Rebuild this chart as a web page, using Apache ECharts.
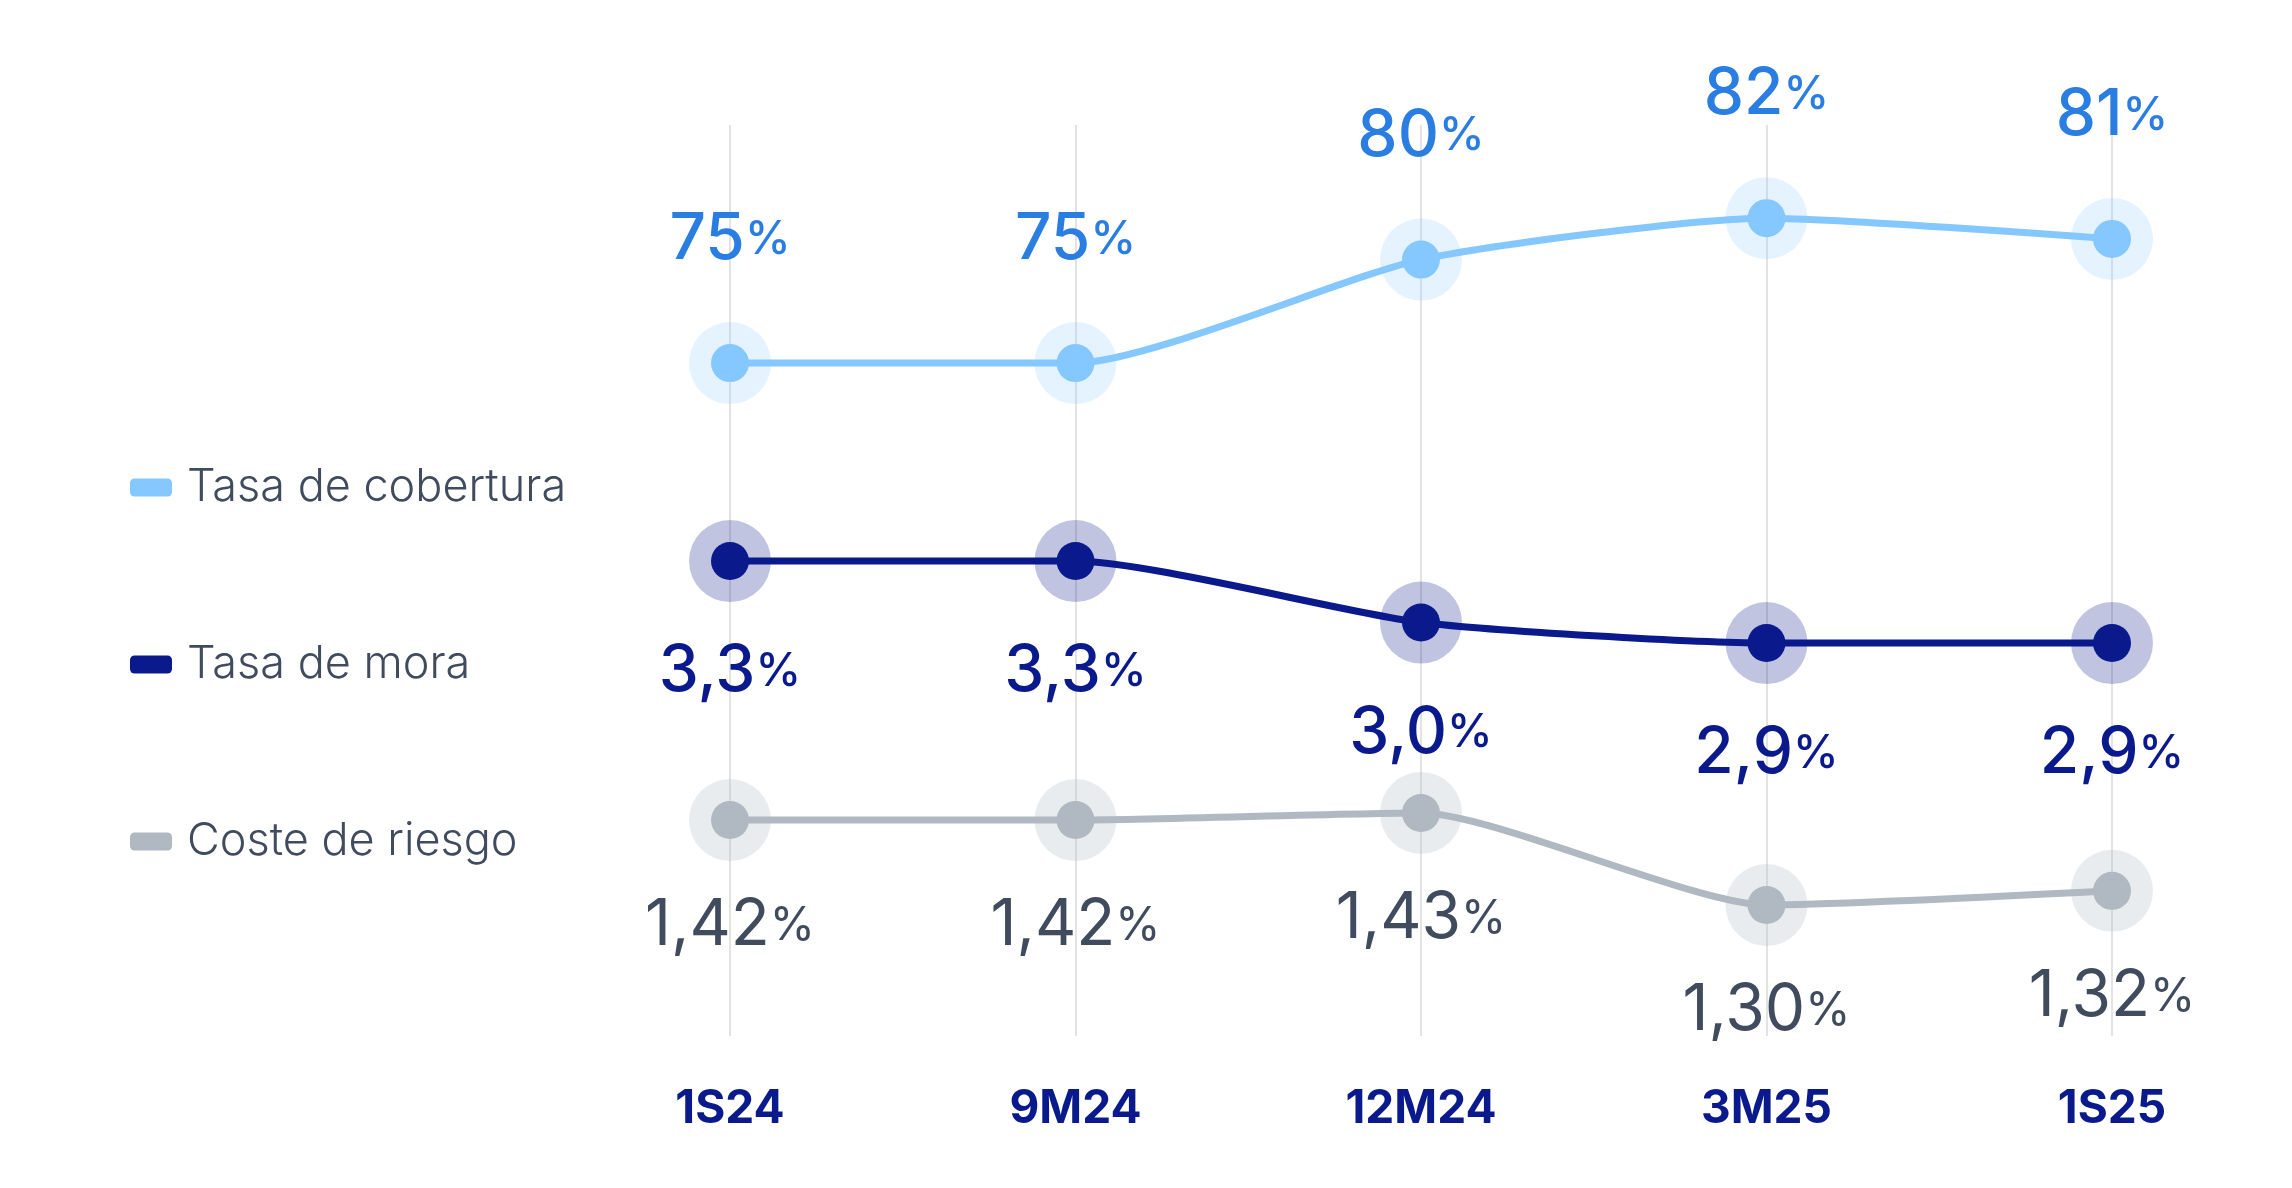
<!DOCTYPE html>
<html><head><meta charset="utf-8">
<script src="https://cdn.jsdelivr.net/npm/echarts@6/dist/echarts.min.js"></script>
<style>html,body{margin:0;padding:0;background:#fff}#c{width:2292px;height:1188px}</style>
</head><body><div id="c"></div>
<script>
const categories = ['1S24','9M24','12M24','3M25','1S25'];
const cobertura = [75, 75, 80, 82, 81];
const mora = [3.3, 3.3, 3.0, 2.9, 2.9];
const coste = [1.42, 1.42, 1.43, 1.30, 1.32];
const names = ['Tasa de cobertura','Tasa de mora','Coste de riesgo'];

const fmt = (v, d) => v.toFixed(d).replace('.', ',');
const F = 'Inter, "Noto Sans", sans-serif';
function lineSeries(name, data, yi, color, halo, labColor, pos, dist, dec, w) {
  return [{
    name, type: 'line', data, yAxisIndex: yi, smooth: 0.2, z: 3,
    lineStyle: {color, width: 7}, itemStyle: {color},
    symbol: 'circle', symbolSize: 38,
    label: {show: true, position: pos, distance: dist,
      formatter: p => '{a|' + fmt(p.value, dec) + '}{b|%}',
      rich: {a: {fontSize: 64, color: labColor, fontFamily: F, fontWeight: w}, b: {fontSize: 46, color: labColor, fontFamily: F, fontWeight: w}}}
  }, {
    type: 'scatter', data, yAxisIndex: yi, symbolSize: 82, z: 2, silent: true,
    itemStyle: {color: halo}
  }];
}
const chart = echarts.init(document.getElementById('c'));
chart.setOption({
  animation: false,
  grid: {left: 730, right: 180, top: 125, bottom: 152},
  legend: {
    orient: 'vertical', left: 125, top: 460, itemGap: 132, itemWidth: 42, itemHeight: 18,
    icon: 'roundRect', data: names,
    textStyle: {fontSize: 45, color: '#414B5E', fontFamily: F, fontWeight: 300, padding: [0,0,0,10]}
  },
  xAxis: {type: 'category', data: categories, boundaryGap: false,
    axisLine: {show: false}, axisTick: {show: false},
    axisLabel: {margin: 50, fontSize: 46, fontWeight: 'bold', color: '#0A1A8C', fontFamily: F},
    splitLine: {show: true, lineStyle: {color: '#e3e3e3', width: 2}}},
  yAxis: [
    {type: 'value', min: 42.5, max: 86.5, show: false},
    {type: 'value', min: 0.983, max: 5.427, show: false},
    {type: 'value', min: 1.115, max: 2.4017, show: false}
  ],
  series: [
    ...lineSeries(names[0], cobertura, 0, '#85C8FF', 'rgba(133,200,255,0.28)', '#2A7DE1', 'top', 72, 0, 500),
    ...lineSeries(names[1], mora, 1, '#0A1A8C', 'rgba(10,26,140,0.32)', '#0A1A8C', 'bottom', 60, 1, 500),
    ...lineSeries(names[2], coste, 2, '#B0B9C2', 'rgba(176,185,194,0.35)', '#414B5E', 'bottom', 55, 2, 400)
  ]
});
</script></body></html>
